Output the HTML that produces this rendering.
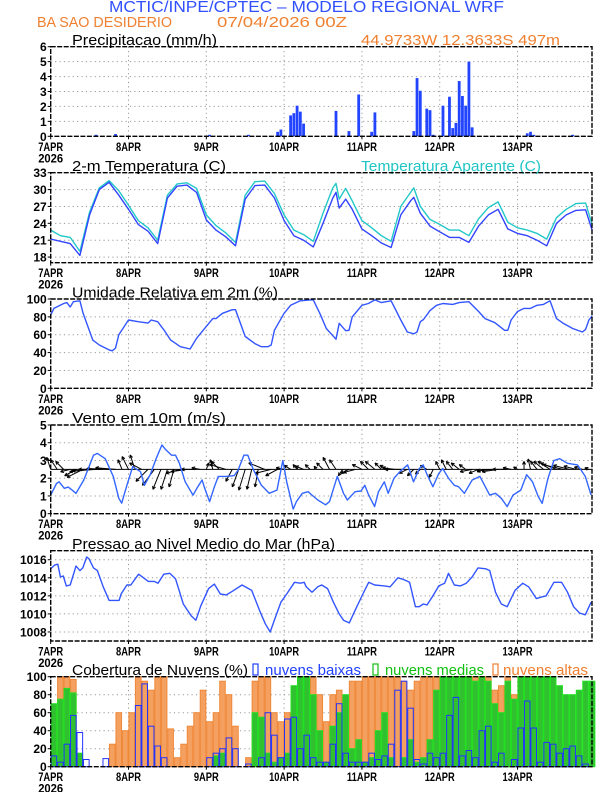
<!DOCTYPE html>
<html><head><meta charset="utf-8"><title>Meteograma WRF</title>
<style>
html,body{margin:0;padding:0;background:#fff;}
svg{display:block;font-family:"Liberation Sans",sans-serif;}
</style></head>
<body>
<svg id="chart" width="612" height="792" viewBox="0 0 612 792" xmlns="http://www.w3.org/2000/svg">
<text x="109" y="12" font-size="16" fill="#3050ff" textLength="395" lengthAdjust="spacingAndGlyphs">MCTIC/INPE/CPTEC – MODELO REGIONAL WRF</text>
<text x="37" y="27" font-size="15" fill="#f08030" textLength="135" lengthAdjust="spacingAndGlyphs">BA SAO DESIDERIO</text>
<text x="217" y="27" font-size="15" fill="#f08030" textLength="130" lengthAdjust="spacingAndGlyphs">07/04/2026 00Z</text>
<text x="361" y="45" font-size="15" fill="#f08030" textLength="199" lengthAdjust="spacingAndGlyphs">44.9733W 12.3633S 497m</text>
</svg>
<script>
// ---- data ----
const dayLabels = ["7APR","8APR","9APR","10APR","11APR","12APR","13APR"];
const precipHours = [14,20,49,61,70,71,74,75,76,77,78,88,92,95,99,100,112,113,114,116,117,118,121,123,124,125,126,127,128,129,130,147,148,149,161];
const precipVals = [0.1,0.15,0.1,0.1,0.3,0.45,1.4,1.55,2.05,1.65,0.85,1.7,0.35,2.8,0.3,1.6,0.35,3.9,3.05,1.85,1.75,0.1,2.05,2.65,0.55,0.9,3.7,2.7,2.05,5.0,0.6,0.2,0.3,0.1,0.1];
const tempHours = [0,3,6,9,12,15,18,21,24,27,30,33,36,39,42,45,48,51,54,57,60,63,66,69,72,75,78,81,84,87,88,89,90,91,93,96,99,102,105,108,111,112,114,117,120,123,126,129,132,135,138,141,144,147,150,153,156,159,162,165,167];
const tempVals = [21.2,20.8,20.4,18.3,25.5,30.0,31.3,29.0,26.5,23.8,22.6,20.4,28.5,30.6,30.8,29.5,24.6,22.8,21.6,20.0,28.3,30.7,30.8,28.5,24.5,21.8,21.0,19.8,24.0,28.5,29.5,26.7,27.5,28.3,26.5,23.0,21.8,20.5,19.7,25.5,28.0,28.6,25.8,23.5,22.5,21.5,21.5,20.6,23.5,25.5,26.5,23.0,22.2,21.8,21.0,20.0,24.0,25.5,26.3,26.4,22.8];
const appTempVals = [22.8,21.8,21.5,19.0,26.0,30.3,31.6,29.8,27.2,24.5,23.2,21.0,29.0,31.0,31.2,30.2,25.5,23.6,22.3,20.6,29.0,31.4,31.5,29.3,25.5,22.8,22.0,20.8,25.8,30.3,31.1,28.3,29.3,30.2,28.0,24.5,23.2,21.8,20.8,27.0,29.5,30.3,27.0,24.7,23.8,22.8,22.8,21.8,24.8,26.8,27.8,24.2,23.2,22.8,22.2,21.2,25.0,26.5,27.5,27.6,23.8];
const rhHours = [0,1,4,5,6,7,9,10,13,15,18,19,20,21,24,27,30,31,33,35,37,40,43,45,47,50,51,53,56,57,60,63,65,67,68,69,72,74,77,80,81,83,85,88,89,91,92,93,96,98,100,102,105,108,110,112,113,114,115,117,119,121,124,126,129,132,134,137,140,141,142,144,146,148,150,152,154,156,158,161,164,165,166,167];
const rhVals = [82,89.5,95,96,91,97,98,84,54,48.5,43,42,45,60,76.5,74.6,73,76.5,74.6,65,54,46.6,44,56,65,78,78,84,88,88,58,50,46.6,46.6,48.5,65,84,93,98,99,99,84,67,55,72.8,64.5,65,80,93,95,99,96,98,76.5,63,61,63,74.6,77,87,93,95,94,96,97,86,78,73.5,65,65,76.5,86,89.5,89.5,93,94,98,78,73,67,63,66,76.5,81];
const windHours = [0,1.8,2.6,4.2,5.4,6.6,7.8,10.2,13.2,14.4,16.8,19.3,21,21.9,23.5,25.3,27.7,28.9,30.7,32.5,34.3,35.5,37.3,38.5,39.7,41.5,43.9,45.1,46.7,47.5,49,50.5,51.7,54.2,56.6,57.8,59.6,60.8,62.6,65,67.4,69.8,71.6,72.8,74.8,75.8,77.6,79.4,80.6,82.4,84.8,86,88.4,90.3,91.5,93.9,95.7,96.9,98.1,99.9,101.1,102.9,104.1,105.9,107.7,110.1,111.9,113.7,114.9,116.1,117.9,119.7,120.9,122.7,124.5,125.8,127.6,130,132.4,135.4,137.2,139,140.8,142.6,145,146.8,148.6,150.4,151.6,153.4,155.2,157,159.4,162.5,164.9,166.7];
const windSpeed = [1.05,1.7,1.8,1.43,1.5,1.33,1.15,1.9,3.3,3.4,3.1,2.1,0.87,0.6,1.6,2.65,2.37,1.6,2.2,3.1,3.87,3.6,3.3,3.3,2.84,1.8,1.05,1.43,1.9,1.43,0.68,1.52,2.1,2.1,2.15,2.46,3.3,3.3,2.46,1.6,1.15,1.33,3.0,1.8,0.26,0.68,1.15,1.24,1.05,0.77,0.5,0.68,2.1,1.15,0.77,1.24,1.28,1.6,1.05,0.4,1.24,1.8,1.15,2.0,2.37,2.75,1.8,2.55,2.75,2.2,1.52,2.27,2.55,2.0,1.6,1.52,1.15,1.9,2.1,1.05,1.15,0.87,0.4,1.05,1.33,2.2,1.8,0.96,0.58,2.0,3.0,3.1,2.84,2.75,2.1,1.05];
const windU = [-0.5,-0.8,-1.0,-1.2,-1.5,-2.0, -2.5,-3,-3,-2.8,-2.5, -0.5,-0.8,-0.6, -1.5, -1.5,-1.5,-1.0,-0.8,-0.6, -1.8,-2.0,-1.5,-1.0, 0.3,-0.3,-1.0,-2.0, -0.8,-0.8,-0.8,-0.6,-0.4, -2.0,-2.0,-1.5,-1.0, -0.8,-0.5,-1.0,-0.6,-0.3,-0.8, -0.8,-0.8,-0.5, -1.0,-1.5,-1.2,-1.0, -1.2,-0.8,-1.0,-1.5,-2.0, -1.0,-0.8,-0.6,-0.8,-0.5, -0.5,-0.6,-0.8,-1.0,-0.8, -1.5,-1.2,-1.0,-1.8,-2.0,-1.5,-1.0,-0.5, 0.0,-0.3,-0.8,-1.2, -1.5,-2.0,-2.5,-2.0,-1.5,-1.0,-0.5];
const windV = [1.5,1.2,1.0,-0.3,-0.8,-1.0, -0.3,-0.2,0,0.1,0.2, 1.2,1.6,1.8, 0.8, -1.5,-2.0,-2.5,-2.5,-2.2, -0.5,-0.3,0,0.2, 0.8,1.2,1.0,0.6, -1.5,-2.2,-2.6,-2.5,-2.2, 0.8,-0.5,-0.8,0.2, 0.5,0.6,0.4,0.6,0.4,0.8, 1.5,1.2,-0.8, -0.5,-0.4,0.6,1.0, 1.0,0.8,0.5,0.2,0, -0.5,-0.8,-0.6,0.5,-1.0, 1.0,1.2,1.0,0.8,0.6, -0.3,-0.5,-0.3,-0.2,-0.3,0,0.2,0.3, 1.0,1.3,1.0,1.0, 1.0,0.8,0.6,0.5,0.4,0.3,0.2];
const presHours = [0,1.2,2.2,3,3.9,4.8,6,7.8,9,9.9,11.1,11.8,13.2,14.4,16.2,18,19.9,21.1,21.7,23.5,24.7,27.1,28.3,30.1,31.9,33.1,34.9,36.7,38.5,40.9,43.3,44.8,46.3,48.7,50.5,52.3,54.2,56,59,62,64.4,66.2,67.7,69.2,71,72.8,75.2,77,78.2,78.8,80.6,82.4,83.6,85.4,87.2,89,90.3,92.1,93.9,96.3,98.1,99.9,102.9,104.7,107.1,108.9,110.7,112.5,113.7,114.9,116.1,117.9,119.7,121.5,122.7,124.5,126.4,128.2,130,131.8,134.2,135.4,137.2,139,140.8,143.2,145.6,147.4,149.8,151.6,152.8,155.2,157.6,159.4,161.3,163.1,164.9,166.7];
const presVals = [1015.0,1015.4,1015.5,1014.1,1014.2,1013.1,1013.2,1015.3,1014.8,1015.1,1016.3,1016.1,1015.1,1014.8,1013,1011.5,1011.5,1011.5,1012.2,1013.2,1013.2,1014.4,1014.1,1013.6,1013.6,1013.4,1014.4,1014.5,1013.9,1011.1,1009.8,1009.3,1010.9,1012.8,1013.3,1012.2,1012.1,1012.5,1013.2,1012.6,1010.4,1008.9,1008.0,1009.5,1011.3,1012.2,1013.5,1013.4,1013.5,1013,1012.4,1013,1013.2,1012.8,1011.3,1010,1009.3,1009,1010.4,1012.2,1013.5,1013.2,1013.1,1013,1014,1013.8,1013.5,1010.8,1010.8,1011.1,1011,1012,1013.1,1013.4,1014.5,1013.2,1013.1,1013.4,1014.1,1015.1,1015,1014.8,1012.4,1011.1,1010.8,1012.6,1013.4,1013,1011.7,1011.9,1012,1013.5,1013.5,1012.4,1010.8,1010.1,1009.9,1011.3];
const cloudHigh = [45,100,100,97,0,0,0,0,0, 25,60,40,60,100,95,85,100,100, 42,10,25,45,60,85,50,60,95, 80,45,0,10,95,100,100,60,50, 60,65,100,100,100,80,50,80,85, 40,95,95,100,100,100,100,100,100, 95,85,95,100,100,100,100,100,100, 100,100,100,95,100,85,90,100,80, 100,100,100,100,95,60,30,10,0, 0,0,0];
const cloudMid = [70,75,87,82,15,0,0,0,0, 0,0,0,0,0,0,0,0,0, 0,0,0,0,0,0,0,12,15, 0,0,0,0,60,55,15,5,10, 15,90,100,100,80,40,5,45,60, 80,20,30,5,10,40,60,10,0, 10,30,5,10,30,85,100,100,100, 100,100,95,100,95,70,60,95,75, 100,100,100,100,100,100,90,80,80, 85,95,95];
const cloudLow = [12,5,25,57,38,8,0,0,9, 0,0,0,0,68,92,45,23,10, 0,0,0,0,0,0,10,15,20, 32,20,0,3,0,10,60,35,10, 53,55,20,35,10,5,5,25,70, 15,5,5,5,15,8,12,25,85, 95,65,8,3,15,10,15,57,77, 12,18,10,40,45,5,15,0,8, 43,73,43,5,27,25,15,20,23, 12,3,0];
const precipTicks = [0,1,2,3,4,5,6];
const tempTicks = [18,21,24,27,30,33];
const rhTicks = [0,20,40,60,80,100];
const windTicks = [0,1,2,3,4,5];
const presTicks = [1008,1010,1012,1014,1016];
const cloudTicks = [0,20,40,60,80,100];

// ---- layout ----
const svg = document.getElementById('chart');
const NS = 'http://www.w3.org/2000/svg';
const L = 50.7, R = 592, PXH = 3.242;
const X = h => L + h * PXH;
function Y(p, v) { return p.b - (v - p.min) / (p.max - p.min) * (p.b - p.t); }
function mk(tag, attrs, parent) {
  const e = document.createElementNS(NS, tag);
  for (const k in attrs) e.setAttribute(k, attrs[k]);
  (parent || svg).appendChild(e);
  return e;
}
const panels = {
  precip: {t:46.7, b:136.3, min:0, max:6, ticks:precipTicks, name:'precip'},
  temp: {t:172.7, b:262.7, min:17, max:33, ticks:tempTicks, name:'temp'},
  rh: {t:299, b:388.3, min:0, max:100, ticks:rhTicks, name:'rh'},
  wind: {t:425, b:513.7, min:0, max:5, ticks:windTicks, name:'wind'},
  pres: {t:550.7, b:641, min:1007, max:1017, ticks:presTicks, name:'pressure'},
  cloud: {t:676.7, b:766.7, min:0, max:100, ticks:cloudTicks, name:'cloud'}
};

function drawFrame(p) {
  const g = mk('g', {});
  
  
  p.ticks.forEach(v => {
    const y = Y(p, v);
    if (y > p.t + 1 && y < p.b - 1) {
      const gl = mk('line', {x1:L, x2:R, y1:y, y2:y, stroke:'#9a9a9a', 'stroke-width':1, 'stroke-dasharray':'1.2,3.2'}, g);
      
      
    }
    mk('line', {x1:L-3, x2:L, y1:y, y2:y, stroke:'#000', 'stroke-width':1}, g);
    const t = mk('text', {x:L-4, y:y+4.5, 'font-size':12, 'font-weight':'bold', 'text-anchor':'end', fill:'#000'}, g);
    
    
    t.textContent = String(v);
  });
  dayLabels.forEach((d, i) => {
    const x = X(i * 24);
    if (i > 0) {
      const gl = mk('line', {x1:x, x2:x, y1:p.t, y2:p.b, stroke:'#9a9a9a', 'stroke-width':1, 'stroke-dasharray':'1.2,3.2'}, g);
      
      
    }
    mk('line', {x1:x, x2:x, y1:p.b, y2:p.b+3, stroke:'#000', 'stroke-width':1}, g);
    const t = mk('text', {x:x, y:p.b+14.5, 'font-size':12, 'font-weight':'bold', 'text-anchor':'middle', fill:'#000', textLength: d.length > 4 ? 30 : 25, lengthAdjust:'spacingAndGlyphs'}, g);
    
    
    t.textContent = d;
  });
  const yr = mk('text', {x:L, y:p.b+26, 'font-size':12, 'font-weight':'bold', 'text-anchor':'middle', fill:'#000', textLength:25, lengthAdjust:'spacingAndGlyphs'}, g);
  
  
  yr.textContent = '2026';
}
function drawBorder(p) {
  const r = mk('rect', {x:L, y:p.t, width:R-L, height:p.b-p.t, fill:'none', stroke:'#000', 'stroke-width':1.4, 'stroke-dasharray':'5,1.5'});
  
  
}
function title(txt, x, y, w, color, name) {
  const t = mk('text', {x:x, y:y, 'font-size':15, fill:color, textLength:w, lengthAdjust:'spacingAndGlyphs'});
  
  
  t.textContent = txt;
  return t;
}
function line(p, hs, vs, color, name) {
  const pts = hs.map((h, i) => X(h).toFixed(1) + ',' + Y(p, vs[i]).toFixed(1)).join(' ');
  const pl = mk('polyline', {points:pts, fill:'none', stroke:color, 'stroke-width':1.4, 'stroke-linejoin':'round'});
  
  
}

Object.values(panels).forEach(drawFrame);

// titles
title('Precipitacao (mm/h)', 72, 45, 145, '#000', 'precip-title');
title('2-m Temperatura (C)', 72, 171, 154, '#000', 'temp-title');
title('Temperatura Aparente (C)', 361, 171, 180, '#20c4c4', 'apparent-temp-title');
title('Umidade Relativa em 2m (%)', 72, 297.5, 206, '#000', 'rh-title');
title('Vento em 10m (m/s)', 72, 423, 154, '#000', 'wind-title');
title('Pressao ao Nivel Medio do Mar (hPa)', 72, 549, 263, '#000', 'pressure-title');
title('Cobertura de Nuvens (%)', 72, 675, 176, '#000', 'cloud-title');
[['nuvens baixas', 253, 265, 96, '#2040ff', 'legend-low-clouds'],
 ['nuvens medias', 373, 385, 99, '#10c010', 'legend-mid-clouds'],
 ['nuvens altas', 493, 503, 85, '#f08030', 'legend-high-clouds']].forEach(l => {
  const b = mk('rect', {x:l[1], y:664, width:5, height:11, fill:'none', stroke:l[4], 'stroke-width':1.2});
  
  
  title(l[0], l[2], 675, l[3], l[4], l[5]);
});

// precip bars
precipHours.forEach((h, i) => {
  const p = panels.precip, y = Y(p, precipVals[i]);
  const r = mk('rect', {x:X(h)-1.4, y:y, width:2.8, height:p.b-y, fill:'#2244ff'});
  
  
});

// temperature lines
line(panels.temp, tempHours, appTempVals, '#22c8c8', 'apparent-temp-line');
line(panels.temp, tempHours, tempVals, '#3344ff', 'temp-line');

// RH
line(panels.rh, rhHours, rhVals, '#3355ff', 'rh-line');

// wind arrows
const wp = panels.wind, baseY = Y(wp, 2.5);
const base = mk('line', {x1:L, x2:R, y1:baseY, y2:baseY, stroke:'#000', 'stroke-width':1});


windU.forEach((u, i) => {
  const h = i * 2, x0 = X(h), y0 = baseY, sc = 8;
  const x1 = x0 + u * sc, y1 = y0 - windV[i] * sc;
  const g = mk('g', {stroke:'#000', 'stroke-width':1, fill:'none'});
  
  
  mk('line', {x1:x0, y1:y0, x2:x1, y2:y1}, g);
  const ang = Math.atan2(y1 - y0, x1 - x0), hl = 3.5;
  [0.45, -0.45].forEach(da => {
    mk('line', {x1:x1, y1:y1, x2:x1 - hl*Math.cos(ang+da), y2:y1 - hl*Math.sin(ang+da)}, g);
  });
});
line(wp, windHours, windSpeed, '#3366ff', 'wind-speed-line');

// pressure
line(panels.pres, presHours, presVals, '#3355ff', 'pressure-line');

// clouds
const cp = panels.cloud;
function cloudBars(vals, fill, stroke, name) {
  vals.forEach((v, i) => {
    if (v <= 0) return;
    const y = Y(cp, v);
    const r = mk('rect', {x:X(i*2)+0.4, y:y, width:5.6, height:cp.b-y, fill:fill, stroke:stroke, 'stroke-width':1});
    
    
  });
}
cloudBars(cloudHigh, '#f4a060', '#f08838', 'high-cloud-bar');
cloudBars(cloudMid, '#30c030', '#22e022', 'mid-cloud-bar');
cloudBars(cloudLow, 'none', '#2233ff', 'low-cloud-bar');

Object.values(panels).forEach(drawBorder);
</script>
</body></html>
